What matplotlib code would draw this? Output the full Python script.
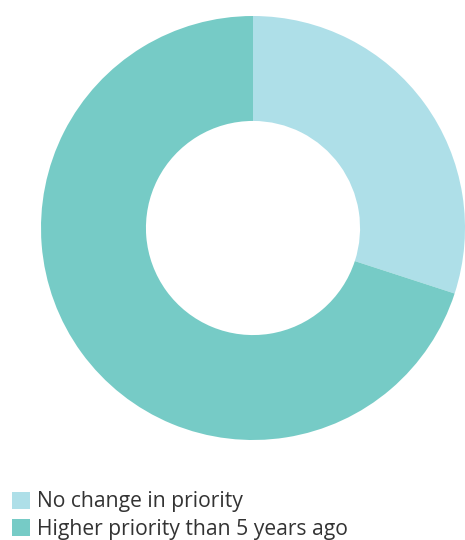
import matplotlib.pyplot as plt

labels = ['No change in priority', 'Higher priority than 5 years ago']
values = [30, 70]
colors = ['#aedfe8', '#76cbc6']

plt.rcParams['font.family'] = ['Open Sans', 'DejaVu Sans']

fig = plt.figure(figsize=(4.65, 5.4), dpi=100)
# donut centred at (253, 228) px, radius 212 px
ax = fig.add_axes([(253 - 212) / 465, (312 - 212) / 540, 424 / 465, 424 / 540])
wedges, _ = ax.pie(values, colors=colors, startangle=90, counterclock=False,
                   radius=1, wedgeprops=dict(width=0.495, linewidth=0))
ax.set_xlim(-1, 1)
ax.set_ylim(-1, 1)
ax.set_aspect('equal')
ax.axis('off')

leg = fig.legend(wedges, labels, loc='upper left', bbox_to_anchor=(4 / 465, 1 - 483 / 540),
                 frameon=False, fontsize=15.2, handlelength=0.85, handleheight=0.85,
                 handletextpad=0.3, labelspacing=0.3, borderaxespad=0, borderpad=0.4,
                 labelcolor='#333333')

fig.savefig('out.png', dpi=100)
